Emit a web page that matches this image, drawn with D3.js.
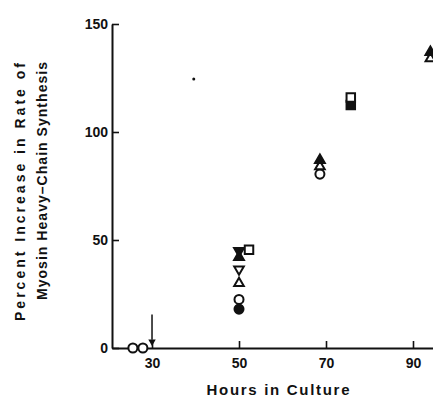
<!DOCTYPE html>
<html>
  <head>
    <meta charset="utf-8" />
    <title>Myosin heavy-chain synthesis</title>
    <script src="https://d3js.org/d3.v7.min.js"></script>
    <style>
      body { margin: 0; background: #fff; }
      text { font-family: "Liberation Sans", Arial, sans-serif; font-weight: bold; fill: #111; }
    </style>
  </head>
  <body>
    <svg id="chart" width="433" height="399"></svg>
    <script>
        // values (hours, percent increase)
        var xTicks = [30, 50, 70, 90];
        var yTicks = [0, 50, 100, 150];

        var openCircle = [[25.6, 0], [27.9, 0], [50, 22.5], [68.6, 80.5]];
        var filledCircle = [[50, 18]];
        var openTriangle = [[50, 30], [68.6, 84], [94, 134]];
        var filledTriangle = [[50, 42], [68.6, 87], [94, 137]];
        var openTriangleDown = [[50, 36.5]];
        var filledTriangleDown = [[50, 45]];
        var openSquare = [[52.3, 45.5], [75.7, 116]];
        var filledSquare = [[75.7, 112.5]];

        var arrowHour = 30;
        var arrowFromTo = [15.5, 1.5];
        var specks = [[39.6, 124.5]];

        var series = [
          { data: openCircle, type: d3.symbolCircle, size: 64, fill: "#fff", rot: 0 },
          { data: filledCircle, type: d3.symbolCircle, size: 64, fill: "#111", rot: 0 },
          { data: openTriangle, type: d3.symbolTriangle, size: 40, fill: "#fff", rot: 0 },
          { data: filledTriangleDown, type: d3.symbolTriangle, size: 42, fill: "#111", rot: 180 },
          { data: filledTriangle, type: d3.symbolTriangle, size: 42, fill: "#111", rot: 0 },
          { data: openTriangleDown, type: d3.symbolTriangle, size: 40, fill: "#fff", rot: 180 },
          { data: filledSquare, type: d3.symbolSquare, size: 72, fill: "#111", rot: 0 },
          { data: openSquare, type: d3.symbolSquare, size: 72, fill: "#fff", rot: 0 }
        ];

        var svg = d3.select("#chart");

        var x = d3.scaleLinear().domain([20.8, 94.6]).range([112, 433]);
        var y = d3.scaleLinear().domain([0, 150]).range([348, 24]);

        // x axis, ticks pointing up into the plot
        var xAxis = svg.append("g")
          .attr("transform", "translate(0," + y(0) + ")")
          .call(d3.axisBottom(x).tickValues(xTicks).tickSizeInner(-7).tickSizeOuter(0).tickPadding(10));
        xAxis.select(".domain").attr("stroke", "#111").attr("stroke-width", 2);
        xAxis.selectAll(".tick line").attr("stroke", "#111").attr("stroke-width", 1.6);
        xAxis.selectAll(".tick text").attr("font-size", 14).attr("fill", "#111")
          .attr("font-family", "Liberation Sans, Arial, sans-serif").attr("font-weight", "bold");

        // y axis, ticks pointing right
        var yAxis = svg.append("g")
          .attr("transform", "translate(" + x.range()[0] + ",0)")
          .call(d3.axisLeft(y).tickValues(yTicks).tickSizeInner(-7).tickSizeOuter(0).tickPadding(4));
        yAxis.select(".domain").attr("stroke", "#111").attr("stroke-width", 2);
        yAxis.selectAll(".tick line").attr("stroke", "#111").attr("stroke-width", 1.6);
        yAxis.selectAll(".tick text").attr("font-size", 14).attr("fill", "#111")
          .attr("font-family", "Liberation Sans, Arial, sans-serif").attr("font-weight", "bold");

        // axis titles
        svg.append("text")
          .attr("x", 278).attr("y", 395)
          .attr("text-anchor", "middle")
          .attr("font-size", 15)
          .attr("textLength", 143).attr("lengthAdjust", "spacing")
          .text("Hours in Culture");

        var yTitle = svg.append("g").attr("transform", "rotate(-90)");
        yTitle.append("text")
          .attr("x", -192).attr("y", 25)
          .attr("text-anchor", "middle").attr("font-size", 14)
          .attr("textLength", 258).attr("lengthAdjust", "spacing")
          .text("Percent Increase in Rate of");
        yTitle.append("text")
          .attr("x", -181).attr("y", 47)
          .attr("text-anchor", "middle").attr("font-size", 14)
          .attr("textLength", 238).attr("lengthAdjust", "spacing")
          .text("Myosin Heavy\u2013Chain Synthesis");

        // arrow at onset
        svg.append("line")
          .attr("x1", x(arrowHour)).attr("x2", x(arrowHour))
          .attr("y1", y(arrowFromTo[0])).attr("y2", y(arrowFromTo[1]) - 5)
          .attr("stroke", "#111").attr("stroke-width", 1.5);
        svg.append("path")
          .attr("transform", "translate(" + x(arrowHour) + "," + (y(arrowFromTo[1]) - 3) + ") rotate(180)")
          .attr("d", d3.symbol().type(d3.symbolTriangle).size(24)())
          .attr("fill", "#111");

        // points
        series.forEach(function (s) {
          svg.append("g").selectAll("path")
            .data(s.data)
            .enter().append("path")
            .attr("transform", function (d) {
              return "translate(" + x(d[0]) + "," + y(d[1]) + ") rotate(" + s.rot + ")";
            })
            .attr("d", d3.symbol().type(s.type).size(s.size)())
            .attr("fill", s.fill)
            .attr("stroke", "#111")
            .attr("stroke-width", 2);
        });

        // scan specks
        svg.append("g").selectAll("circle")
          .data(specks)
          .enter().append("circle")
          .attr("cx", function (d) { return x(d[0]); })
          .attr("cy", function (d) { return y(d[1]); })
          .attr("r", 1.5)
          .attr("fill", "#111");
    </script>
  </body>
</html>
